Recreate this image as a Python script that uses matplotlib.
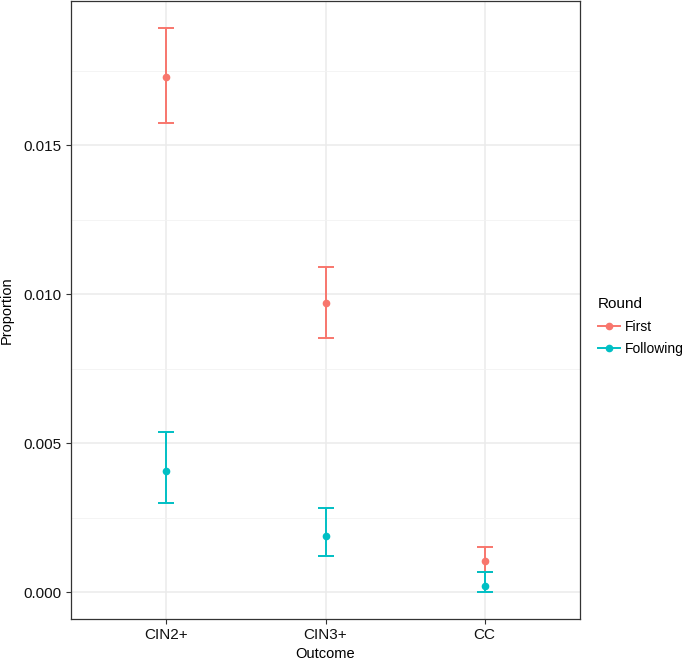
import numpy as np
import matplotlib
matplotlib.use("Agg")
import matplotlib.pyplot as plt
from matplotlib.lines import Line2D

plt.rcParams['font.family'] = ['Liberation Sans', 'DejaVu Sans']

outcomes = ["CIN2+", "CIN3+", "CC"]
rounds = ["First", "Following"]
colors = ["#F8766D", "#00BFC4"]

# proportion, lower and upper bounds per round
first_p = [0.01728, 0.00971, 0.00104]
first_lo = [0.01574, 0.00854, 0.00070]
first_hi = [0.01892, 0.01092, 0.00151]

follow_p = [0.00409, 0.00188, 0.00023]
follow_lo = [0.00301, 0.00121, 0.00003]
follow_hi = [0.00539, 0.00285, 0.00070]

fig = plt.figure(figsize=(6.85, 6.61), dpi=100)
ax = fig.add_axes([71 / 685, 42 / 661, 509 / 685, 618 / 661])

x = np.arange(1, len(outcomes) + 1)
series = [(first_p, first_lo, first_hi), (follow_p, follow_lo, follow_hi)]
for (p, lo, hi), col in zip(series, colors):
    p = np.array(p)
    err = [p - np.array(lo), np.array(hi) - p]
    ax.errorbar(x, p, yerr=err, fmt="o", color=col, ms=4.5, elinewidth=1.4,
                capsize=5.8, capthick=1.4, zorder=3)

ax.set_xlim(0.4, 3.6)
ax.set_ylim(-0.00089, 0.01984)
ax.set_xticks(x)
ax.set_xticklabels(outcomes)
ax.set_yticks([0, 0.005, 0.010, 0.015])
ax.set_yticklabels(["0.000", "0.005", "0.010", "0.015"])
ax.set_yticks([0.0025, 0.0075, 0.0125, 0.0175], minor=True)

ax.grid(True, which="major", color="#EBEBEB", lw=1.1, zorder=0)
ax.grid(True, which="minor", axis="y", color="#F2F2F2", lw=0.6, zorder=0)
ax.set_axisbelow(True)
for s in ax.spines.values():
    s.set_color("#333333")
    s.set_linewidth(0.9)
ax.tick_params(which="major", length=3.5, color="#333333", labelsize=11, labelcolor="#111111", pad=3)
ax.tick_params(which="minor", length=0)

ax.set_xlabel("Outcome", fontsize=10.5, labelpad=3.5)
ax.set_ylabel("Proportion", fontsize=10.5, labelpad=7)

handles = [Line2D([0], [0], color=c, marker="o", ms=4.5, lw=1.4) for c in colors]
leg = fig.legend(handles, rounds, title="Round", loc="upper left",
                 bbox_to_anchor=(585 / 685, 1 - 285 / 661), frameon=False,
                 fontsize=10, title_fontsize=11, handlelength=1.6,
                 handletextpad=0.4, labelspacing=0.6)
leg._legend_box.align = "left"

fig.savefig("out.png", dpi=100)
